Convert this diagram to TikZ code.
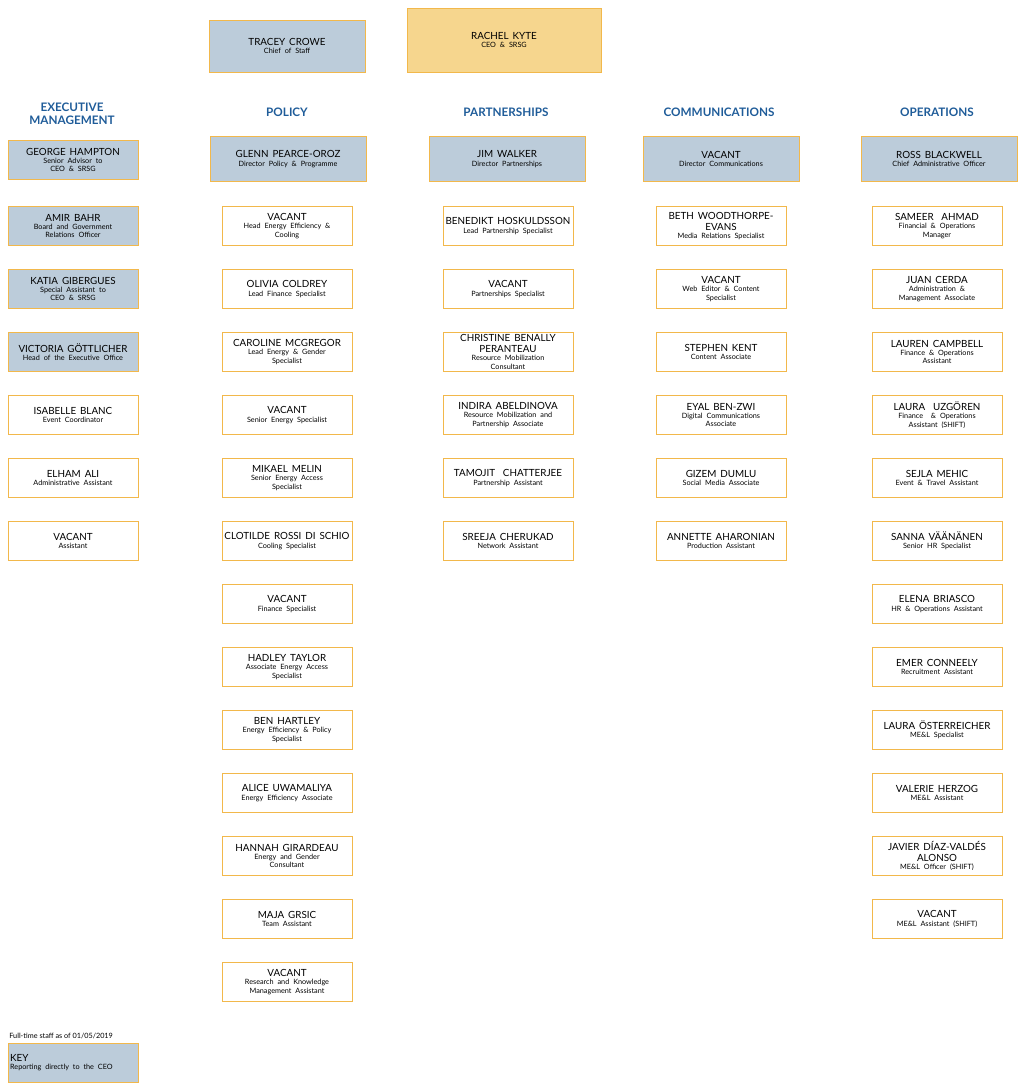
\documentclass[tikz,border=0pt]{standalone}
\usepackage{fontspec}
\setmainfont{Lato}
\usetikzlibrary{positioning}
\definecolor{boxline}{HTML}{F2B84B}
\definecolor{ceofill}{HTML}{F6D68E}
\definecolor{ceoblue}{HTML}{BCCCDA}
\definecolor{headblue}{HTML}{1F5C99}
\newcommand{\who}[2]{{\fontsize{8.4pt}{9.2pt}\selectfont #1\par}{\fontsize{6.2pt}{7pt}\selectfont #2\par}}

\begin{document}
\begin{tikzpicture}[
        x=0.03cm, y=-0.03cm,
        every node/.style={align=center, inner sep=1pt},
        staff/.style={draw=boxline, thick, fill=white, text width=3.8cm, minimum width=3.9cm, minimum height=1.17cm},
        direct/.style={staff, fill=ceoblue},
        director/.style={direct, text width=4.5cm, minimum width=4.68cm, minimum height=1.35cm},
        header/.style={text=headblue, font=\bfseries\fontsize{10pt}{11pt}\selectfont}
    ]
    \useasboundingbox (0,0) rectangle (1024,1085);

    % Top
    \node (ceo)[staff, fill=ceofill, text width=5.6cm, minimum width=5.82cm, minimum height=1.92cm] at (504,40)
        {\who{RACHEL KYTE}{CEO \& SRSG}};
    \node (cos)[director, minimum height=1.56cm] at (287,46) {\who{TRACEY CROWE}{Chief of Staff}};

    % Headers
    \node (hexe)[header] at (72,114) {EXECUTIVE\\MANAGEMENT};
    \node (hpol)[header] at (287,112) {POLICY};
    \node (hpar)[header] at (506,112) {PARTNERSHIPS};
    \node (hcom)[header] at (719,112) {COMMUNICATIONS};
    \node (hops)[header] at (937,112) {OPERATIONS};

    % Directors
    \node (dpol)[director] at (288,159) {\who{GLENN PEARCE-OROZ}{Director Policy \& Programme}};
    \node (dpar)[director] at (507,159) {\who{JIM WALKER}{Director Partnerships}};
    \node (dcom)[director] at (721,159) {\who{VACANT}{Director Communications}};
    \node (dops)[director] at (939,159) {\who{ROSS BLACKWELL}{Chief Administrative Officer}};

    % Executive management
    \node (exe0)[direct] at (73,160) {\who{GEORGE HAMPTON}{Senior Advisor to\\CEO \& SRSG}};
    \foreach \s/\n/\t [count=\i] in {
        direct/{AMIR BAHR}/{Board and Government\\Relations Officer},
        direct/{KATIA GIBERGUES}/{Special Assistant to\\CEO \& SRSG},
        direct/{VICTORIA GÖTTLICHER}/{Head of the Executive Office},
        staff/{ISABELLE BLANC}/{Event Coordinator},
        staff/{ELHAM ALI}/{Administrative Assistant},
        staff/{VACANT}/{Assistant}}
        \node (exe\i)[\s] at (73,226+63*\i-63) {\who{\n}{\t}};

    % Policy
    \foreach \n/\t [count=\i] in {
        {VACANT}/{Head Energy Efficiency \&\\Cooling},
        {OLIVIA COLDREY}/{Lead Finance Specialist},
        {CAROLINE MCGREGOR}/{Lead Energy \& Gender\\Specialist},
        {VACANT}/{Senior Energy Specialist},
        {MIKAEL MELIN}/{Senior Energy Access\\Specialist},
        {CLOTILDE ROSSI DI SCHIO}/{Cooling Specialist},
        {VACANT}/{Finance Specialist},
        {HADLEY TAYLOR}/{Associate Energy Access\\Specialist},
        {BEN HARTLEY}/{Energy Efficiency \& Policy\\Specialist},
        {ALICE UWAMALIYA}/{Energy Efficiency Associate},
        {HANNAH GIRARDEAU}/{Energy and Gender\\Consultant},
        {MAJA GRSIC}/{Team Assistant},
        {VACANT}/{Research and Knowledge\\Management Assistant}}
        \node (pol\i)[staff] at (287,226+63*\i-63) {\who{\n}{\t}};

    % Partnerships
    \foreach \n/\t [count=\i] in {
        {BENEDIKT HOSKULDSSON}/{Lead Partnership Specialist},
        {VACANT}/{Partnerships Specialist},
        {CHRISTINE BENALLY\\PERANTEAU}/{Resource Mobilization\\Consultant},
        {INDIRA ABELDINOVA}/{Resource Mobilization and\\Partnership Associate},
        {TAMOJIT\ \ CHATTERJEE}/{Partnership Assistant},
        {SREEJA CHERUKAD}/{Network Assistant}}
        \node (par\i)[staff] at (508,226+63*\i-63) {\who{\n}{\t}};

    % Communications
    \foreach \n/\t [count=\i] in {
        {BETH WOODTHORPE-\\EVANS}/{Media Relations Specialist},
        {VACANT}/{Web Editor \& Content\\Specialist},
        {STEPHEN KENT}/{Content Associate},
        {EYAL BEN-ZWI}/{Digital Communications\\Associate},
        {GIZEM DUMLU}/{Social Media Associate},
        {ANNETTE AHARONIAN}/{Production Assistant}}
        \node (com\i)[staff] at (721,226+63*\i-63) {\who{\n}{\t}};

    % Operations
    \foreach \n/\t [count=\i] in {
        {SAMEER\ \ AHMAD}/{Financial \& Operations\\Manager},
        {JUAN CERDA}/{Administration \&\\Management Associate},
        {LAUREN CAMPBELL}/{Finance \& Operations\\Assistant},
        {LAURA\ \ UZGÖREN}/{Finance\ \ \& Operations\\Assistant (SHIFT)},
        {SEJLA MEHIC}/{Event \& Travel Assistant},
        {SANNA VÄÄNÄNEN}/{Senior HR Specialist},
        {ELENA BRIASCO}/{HR \& Operations Assistant},
        {EMER CONNEELY}/{Recruitment Assistant},
        {LAURA ÖSTERREICHER}/{ME\&L Specialist},
        {VALERIE HERZOG}/{ME\&L Assistant},
        {JAVIER DÍAZ-VALDÉS\\ALONSO}/{ME\&L Officer (SHIFT)},
        {VACANT}/{ME\&L Assistant (SHIFT)}}
        \node (ops\i)[staff] at (937,226+63*\i-63) {\who{\n}{\t}};

    % Key
    \node (date)[anchor=west, font=\fontsize{6.2pt}{7pt}\selectfont] at (8,1036) {Full-time staff as of 01/05/2019};
    \node (key)[direct, align=left, anchor=north west] at (8,1043)
        {{\fontsize{8.4pt}{9.2pt}\selectfont KEY\par}{\fontsize{6.2pt}{7pt}\selectfont Reporting directly to the CEO\par}};
\end{tikzpicture}
\end{document}
